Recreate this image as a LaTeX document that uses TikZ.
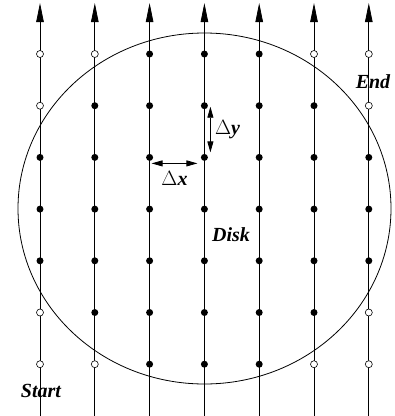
\documentclass[tikz,border=0pt]{standalone}
\usepackage{fontspec}
\setmainfont{Liberation Serif}
\usetikzlibrary{arrows.meta}

\tikzset{
  dot/.style={circle,fill=black,inner sep=0pt,minimum size=7pt},
  hole/.style={circle,draw=black,fill=white,line width=0.6pt,inner sep=0pt,minimum size=7pt},
  scanline/.style={line width=0.8pt,-{Triangle[length=19pt,width=7.5pt]}},
  steparrow/.style={line width=0.8pt,{Triangle[length=11pt,width=6pt]}-{Triangle[length=11pt,width=6pt]}},
  lbl/.style={font=\fontsize{20}{22}\selectfont\bfseries\itshape}
}

\begin{document}
\begin{tikzpicture}[x=1pt,y=-1pt]
\useasboundingbox (0,0) rectangle (395,416);
% disk
\draw[line width=0.8pt] (204.5,208.5) ellipse [x radius=186.5,y radius=175.5];
% scan lines
\foreach \i in {1,...,7} {
  \coordinate (b\i) at ({40+54.8*(\i-1)},416);
  \coordinate (t\i) at ({40+54.8*(\i-1)},3);
  \draw[scanline] (b\i) -- (t\i);
}
% sample points, open outside the disk
\foreach \i in {1,...,7} {
  \foreach \j in {1,...,7} {
    \pgfmathtruncatemacro\outside{((\i-4)*54.8/186.5)^2+((\j-4)*51.7/175.5)^2>1}
    \ifnum\outside=1
      \node[hole] (p\i\j) at ({40+54.8*(\i-1)},{54+51.7*(\j-1)}) {};
    \else
      \node[dot] (p\i\j) at ({40+54.8*(\i-1)},{54+51.7*(\j-1)}) {};
    \fi
  }
}
% steps
\draw[steparrow] ([shift={(2,6)}]p33.center) -- ([shift={(-7,6)}]p43.center)
  node[midway,below=4pt,font=\fontsize{20}{22}\selectfont] (dx) {$\Delta$\textbf{\textit{x}}};
\draw[steparrow] ([shift={(6,1)}]p42.center) -- ([shift={(6,-5)}]p43.center)
  node[midway,right=1pt,font=\fontsize{20}{22}\selectfont] (dy) {$\Delta$\textbf{\textit{y}}};
% labels
\node[lbl] (end) at (373,82) {End};
\node[lbl] (disk) at (231,235) {Disk};
\node[lbl] (start) at (41,391) {Start};
\end{tikzpicture}
\end{document}
